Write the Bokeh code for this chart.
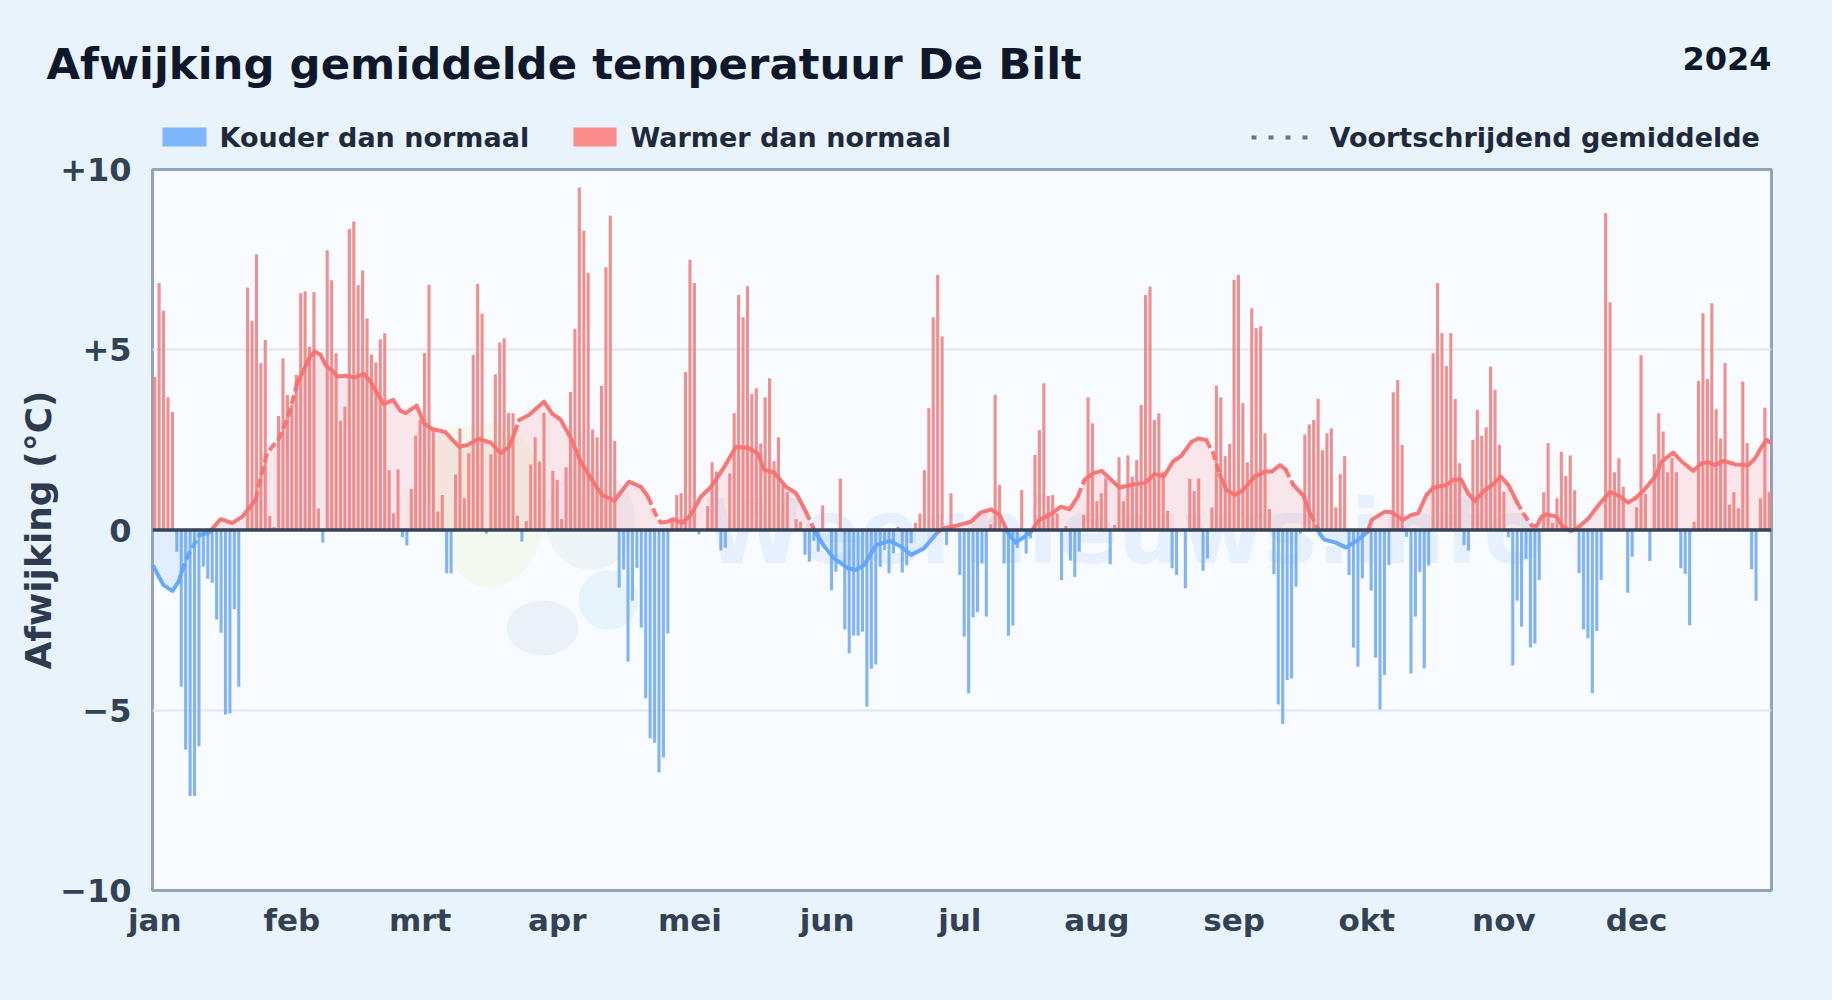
from bokeh.plotting import figure
from bokeh.layouts import column
from bokeh.models import Span, FixedTicker, ColumnDataSource
from bokeh.core.properties import value
from bokeh.embed import file_html
from bokeh.resources import INLINE

FONT = "DejaVu Sans"

month_labels = ["jan", "feb", "mrt", "apr", "mei", "jun", "jul", "aug", "sep", "okt", "nov", "dec"]
month_starts = [0, 31, 60, 91, 121, 152, 182, 213, 244, 274, 305, 335]
y_ticks = [-10, -5, 0, 5, 10]
y_tick_labels = ["\u221210", "\u22125", "0", "+5", "+10"]

# one deviation per day of 2024
daily_deviation = [
    4.25, 6.85, 6.08, 3.68, 3.27,
    -0.6, -4.35, -6.09, -7.38, -7.38, -6.0, -1.02, -1.35, -1.46, -2.48, -2.85, -5.12, -5.09, -2.2, -4.35,
    0,
    6.73, 5.8, 7.65, 4.63, 5.27, 0.39, 0.08, 3.16, 4.76, 3.75, 3.47, 4.3, 6.57, 6.62, 5.09, 6.6, 0.6,
    -0.35,
    7.76, 6.93, 4.9, 3.03, 3.42, 8.35, 8.56, 6.79, 7.2, 5.87, 4.87, 4.65, 5.29, 5.46, 1.66, 0.46, 1.68,
    -0.2, -0.43,
    1.14, 2.62, 3.05, 4.91, 6.8, 2.75, 0.51, 0.97,
    -1.2, -1.2,
    1.54, 2.82, 0.88, 2.13, 4.86, 6.83, 6.0,
    -0.1,
    2.1, 4.32, 5.2, 5.32, 3.25, 3.24, 0.4,
    -0.32,
    0.25, 1.82, 2.57, 1.9, 3.25,
    -0.05,
    1.64, 1.39, 0.3, 1.74, 3.83, 5.58, 9.5, 8.3, 7.13, 2.79, 2.57, 4.0, 7.29, 8.72, 2.47,
    -1.6, -1.1, -3.65, -1.96, -1.05, -2.71, -4.67, -5.78, -5.9, -6.73, -6.31, -2.87,
    0.25, 0.97, 1.02, 4.38, 7.5, 6.85,
    -0.12,
    0,
    0.67, 1.88, 1.62,
    -0.57, -0.49,
    1.57, 3.24, 6.52, 5.9, 6.76, 3.77, 3.93, 2.4, 3.68, 4.21, 1.91, 2.57, 1.25, 1.06,
    0,
    0.3, 0.23,
    -0.69, -0.88, -0.3, -0.6,
    0.68,
    0,
    -1.67, -1.16,
    1.43,
    -2.76, -3.42, -2.93, -2.93, -2.82, -4.9, -3.85, -3.73, -1.02, -0.56, -1.2, -0.65,
    0.09,
    -1.18, -0.98, -0.37,
    0.2, 0.45, 1.66, 3.38, 5.9, 7.08, 5.37,
    -0.42,
    1.02,
    0,
    -1.25, -2.96, -4.53, -2.42, -2.27, -0.93, -2.4,
    0.16, 3.75, 1.25,
    -0.93, -2.93, -2.65, -0.5,
    1.11,
    -0.65, -0.23,
    2.08, 2.77, 4.07, 0.94, 0.97, 0.46,
    -1.39,
    0.11,
    -0.85, -1.3, -0.6,
    0.42, 3.68, 2.96, 0.8, 1.02, 1.43,
    -0.95,
    0.14, 2.02, 0.8, 2.07, 1.48, 1.94, 3.47, 6.52, 6.75, 3.05, 3.24, 1.62, 0.53,
    -1.06, -1.25,
    0,
    -1.62,
    1.42, 1.08, 1.43,
    -1.13, -0.79,
    0.62, 4.0, 3.68, 2.05, 2.39, 6.94, 7.08, 3.52, 1.88, 6.15, 5.6, 5.65, 2.68, 0.58,
    -1.22, -4.84, -5.38, -4.16, -4.12, -1.57, -0.1,
    2.65, 2.93, 3.05, 3.64, 2.21, 2.68, 2.82, 0.63, 1.55, 2.05,
    -1.25, -3.26, -3.79, -1.34,
    0,
    -1.68, -3.54, -4.98, -4.02, -0.97,
    3.82, 4.16, 2.36,
    -0.19, -3.98, -2.4, -1.16, -3.84, -0.99,
    4.9, 6.85, 5.46, 4.55, 5.46, 3.63, 1.85,
    -0.42, -0.57,
    2.5, 3.33, 2.61, 2.85, 4.53, 3.89, 2.36, 1.06,
    -0.2, -3.76, -1.96, -2.68, -0.8, -3.26, -3.15, -1.39,
    1.05, 2.41, 0.2, 0.88, 2.17, 1.5, 2.07, 1.1,
    -1.2, -2.75, -3.0, -4.52, -2.8, -1.39,
    8.79, 6.32, 1.6, 1.99, 1.2,
    -1.74, -0.74,
    0.63, 4.85, 1.0,
    -0.86,
    2.1, 3.24, 2.73, 1.6, 2.0, 1.6,
    -1.06, -1.22, -2.64,
    0.23, 4.13, 6.01, 4.19, 6.29, 3.35, 2.54, 4.63, 0.71, 1.05, 0.6, 4.12, 2.41,
    -1.09, -1.96,
    0.88, 3.39, 1.05,
]
assert len(daily_deviation) == 366, len(daily_deviation)

# running mean at its visible corners
ma_day = [0.3, 1.5, 2.5, 4.5, 5.9, 6.6, 7.9, 9.3, 10.6, 12.4, 13.3,
          13.4, 15.4, 16.5, 18, 20.3, 21.8, 23.3, 24.4, 25.9, 28.6, 30.5, 31.6, 32.7, 34.2, 35.6, 36.7, 38, 39.1,
          40.6, 41.8, 43.7, 45.7, 47.8, 49.3, 50.8, 52.3, 54.4, 56.1, 57.2, 59.7, 61.4, 63.3, 66.3, 67.8, 69.3,
          71.2, 73.8, 76.5, 78.7, 80.6, 81.8, 82.9, 85.1, 88.5, 90.4, 91.9, 92.3, 94.6, 96.8, 99.8, 101.7, 104.4,
          107.7, 110.4, 112, 113.8, 114.9, 116.4, 117.6, 119.8, 121.7, 124, 126.3, 129.3, 131.9, 134.5, 136.8,
          138.3, 140.6, 143.2, 145.5, 147.7, 149.5,
          149.7, 151.9, 154.1, 157.2, 159, 160.9, 163.6, 166.6, 169.2, 171.5, 174.4, 177.6,
          179, 181.7, 183.9, 185, 187.3, 189.6, 191.5, 192.9,
          193.1, 195.1, 197, 198.8,
          199, 200.5, 202.8, 205.4, 207.3, 209.2, 210.7, 212.6, 214.6, 216.4, 218.6, 222, 224.3, 226.5, 228.7,
          230.7, 232.6, 234.9, 236.4, 238.2, 239.8, 241.3, 242.8, 244.7, 246.5, 249.2, 251.5, 253, 254.9, 256.1,
          257.9, 260.1, 261.7, 263.5,
          263.8, 264.8, 267.5, 269.8, 272.5, 274.7,
          275.6, 278.6, 280.1, 282.7, 284.6, 286.1, 288, 289.5, 292.5, 294, 295.8, 297.4, 298.9, 301.2, 302.9,
          304.8, 306.5, 308.4, 309.9, 311.8, 313, 314, 315.2, 317.4, 318.9,
          320.6,
          322.2, 324.6, 326.9, 329.5, 331.8, 333.6, 335.2, 337, 339.7, 341.2, 343.8, 345.7, 348.3, 350.2, 351.7,
          353.2, 355.1, 357.8, 360.8, 362.3, 363.8, 364.9, 366]
ma_value = [-1.02, -1.31, -1.53, -1.69, -1.43, -1.16, -0.74, -0.42, -0.14, -0.09, -0.02,
            0.02, 0.3, 0.26, 0.19, 0.37, 0.6, 0.83, 1.43, 2.13, 2.54, 3.1, 3.56, 4.07, 4.44, 4.81, 4.95, 4.86, 4.58,
            4.42, 4.26, 4.28, 4.23, 4.33, 4.12, 3.79, 3.49, 3.61, 3.3, 3.24, 3.45, 2.96, 2.8, 2.71, 2.5, 2.31,
            2.36, 2.53, 2.42, 2.13, 2.31, 2.68, 3.05, 3.19, 3.56, 3.22, 3.1, 3.05, 2.54, 1.9, 1.3, 0.97, 0.81,
            1.34, 1.2, 0.93, 0.42, 0.21, 0.23, 0.3, 0.2, 0.42, 0.93, 1.2, 1.76, 2.31, 2.28, 2.13,
            1.67, 1.59, 1.2, 1.02, 0.51, 0.03,
            -0.03, -0.46, -0.79, -1.06, -1.11, -0.97, -0.42, -0.3, -0.46, -0.69, -0.51, -0.05,
            0.05, 0.12, 0.19, 0.23, 0.49, 0.57, 0.42, 0.06,
            -0.02, -0.35, -0.2, -0.02,
            0.03, 0.28, 0.42, 0.65, 0.57, 0.93, 1.39, 1.57, 1.64, 1.43, 1.18, 1.27, 1.3, 1.55, 1.5,
            1.9, 2.06, 2.45, 2.54, 2.5, 2.13, 1.53, 1.11, 0.97, 1.11, 1.48, 1.62, 1.62, 1.8, 1.69,
            1.25, 0.97, 0.46, 0.03,
            -0.09, -0.26, -0.35, -0.49, -0.28, -0.05,
            0.28, 0.51, 0.49, 0.28, 0.42, 0.46, 0.97, 1.17, 1.25, 1.39, 1.41, 1.02, 0.8, 1.11, 1.25,
            1.48, 1.25, 0.79, 0.46, 0.12, 0.12, 0.37, 0.43, 0.37, 0.09,
            -0.03,
            0.06, 0.32, 0.69, 1.06, 0.93, 0.76, 0.88, 1.08, 1.48, 1.9, 2.15, 1.9, 1.64, 1.85, 1.88,
            1.8, 1.92, 1.82, 1.8, 1.99, 2.31, 2.5, 2.41]
assert len(ma_day) == len(ma_value), (len(ma_day), len(ma_value))
ma_dashed_spans = [(6.3, 10.4), (23.7, 33), (81.8, 83.5), (90, 92), (112, 115.5), (147.7, 149.6),
                   (209, 211), (239, 241.5), (256.5, 258), (261, 263.5), (288, 289.5), (309, 313)]

W = 1832
HEAD_H, OVERLAP, MAIN_H = 158, 14, 856
FL, FT, FW, FH = 152, 25, 1619, 721
BG = "#e8f3fb"
RED, BLUE = "#f87171", "#60a5fa"

# ---------- header: title, year, legend (coordinates = page pixels) ----------
head = figure(width=W, height=HEAD_H, output_backend="svg", toolbar_location=None,
              x_range=(0, W), y_range=(HEAD_H, 0), x_axis_type=None, y_axis_type=None,
              min_border=0)
head.frame_align = False
head.grid.visible = False
head.outline_line_color = None
head.background_fill_color = BG
head.border_fill_color = BG


def head_text(x, y, s, size, color, align="left"):
    head.text(x=[x], y=[y], text=[s], text_font=value(FONT), text_font_style="bold", text_font_size=size,
              text_color=color, text_align=align, text_baseline="middle")


head_text(46, 63, "Afwijking gemiddelde temperatuur De Bilt", "43.4px", "#0f172a")
head_text(1771, 58, "2024", "32px", "#0f172a", "right")
head_text(219, 137, "Kouder dan normaal", "27px", "#1e293b")
head_text(630, 137, "Warmer dan normaal", "27px", "#1e293b")
head_text(1329, 137, "Voortschrijdend gemiddelde", "27px", "#1e293b")
head.quad(left=[162, 573], right=[206, 616], top=[127, 127], bottom=[146, 146],
          fill_color=["#7fb6fb", "#fa8c8c"], line_color=None)
head.line([1251, 1307], [137, 137], line_color="#64748b", line_width=4, line_dash="5 12")

# ---------- main chart ----------
p = figure(width=W, height=MAIN_H, output_backend="svg", toolbar_location=None,
           x_range=(0, 366), y_range=(-10, 10),
           min_border_left=FL, min_border_right=W - FL - FW, min_border_top=FT,
           min_border_bottom=MAIN_H - FT - FH, margin=(-OVERLAP, 0, 0, 0))
p.frame_align = False
p.background_fill_color = "#f8fbff"
p.border_fill_color = None
p.outline_line_color = "#94a3b8"
p.outline_line_width = 3
p.xgrid.visible = False
p.ygrid.ticker = FixedTicker(ticks=[-5, 5])
p.ygrid.grid_line_color = "#e2e8f0"
p.ygrid.grid_line_width = 2

ax = p.xaxis[0]
ax.ticker = FixedTicker(ticks=[m + 0.5 for m in month_starts])
ax.major_label_overrides = {m + 0.5: s for m, s in zip(month_starts, month_labels)}
ay = p.yaxis[0]
ay.ticker = FixedTicker(ticks=y_ticks)
ay.major_label_overrides = dict(zip(y_ticks, y_tick_labels))
for a in (ax, ay):
    a.axis_line_color = None
    a.major_tick_line_color = None
    a.minor_tick_line_color = None
    a.major_label_text_font = FONT
    a.major_label_text_font_style = "bold"
    a.major_label_text_color = "#334155"
ax.major_label_text_font_size = "31px"
ay.major_label_text_font_size = "32px"
ax.major_label_standoff = 5
ay.major_label_standoff = 15
ay.axis_label = "Afwijking (\u00b0C)"
ay.axis_label_text_font = FONT
ay.axis_label_text_font_style = "bold"
ay.axis_label_text_font_size = "36px"
ay.axis_label_text_color = "#2d3a4f"
ay.axis_label_standoff = -2


def px_x(px):
    return (px - 152) / (FW / 366)


def px_y(py):
    return (530 - py) / (FH / 20)


# faint logo and site name behind the data
logo_parts = [(490, 505, 110, 165, "#f3f9ee"), (460, 475, 70, 100, "#f4f9ef"), (542, 628, 72, 55, "#eaf1f8"),
              (608, 600, 60, 60, "#e8f4fc"), (590, 520, 90, 100, "#eff4f9")]
p.ellipse(x=[px_x(c[0]) for c in logo_parts], y=[px_y(c[1]) for c in logo_parts],
          width=[c[2] / (FW / 366) for c in logo_parts], height=[c[3] / (FH / 20) for c in logo_parts],
          fill_color=[c[4] for c in logo_parts], line_color=None)
p.text(x=[px_x(704)], y=[px_y(532)], text=["Weernieuws.info"], text_font=value(FONT), text_font_style="bold",
       text_font_size="89px", text_color="#3b82f6", text_alpha=0.085, text_baseline="alphabetic")

# area under the running mean
p.varea(x=ma_day, y1=[0] * len(ma_day), y2=[max(v, 0) for v in ma_value], fill_color=RED, fill_alpha=0.15)
p.varea(x=ma_day, y1=[0] * len(ma_day), y2=[min(v, 0) for v in ma_value], fill_color=BLUE, fill_alpha=0.15)

# daily bars
days = [d + 0.5 for d in range(len(daily_deviation))]
src = ColumnDataSource(dict(x=days, top=daily_deviation,
                            color=["#ee8080" if v >= 0 else "#6eaaf2" for v in daily_deviation]))
p.vbar(x="x", top="top", bottom=0, width=0.7, fill_color="color", fill_alpha=0.88, line_color=None, source=src)

p.add_layout(Span(location=0, dimension="width", line_color="#374357", line_width=3.5))

# running mean, split where colour or dash style changes
runs = []
for k in range(len(ma_day) - 1):
    mid = (ma_day[k] + ma_day[k + 1]) / 2
    sign = ma_value[k] + ma_value[k + 1] >= 0
    dashed = any(a <= mid <= b for a, b in ma_dashed_spans)
    key = (sign, dashed)
    if runs and runs[-1][0] == key:
        runs[-1][1].append(k + 1)
    else:
        runs.append((key, [k, k + 1]))
for (sign, dashed), idx in runs:
    p.line([ma_day[i] for i in idx], [ma_value[i] for i in idx], line_color=RED if sign else BLUE,
           line_width=4, line_join="round", line_cap="round" if not dashed else "butt",
           line_dash="9 4" if dashed else "solid", line_alpha=0.95)

html = file_html(column(head, p, spacing=0), INLINE)
html = html.replace("</head>", "<style>html,body{background:#e8f3fb}</style></head>", 1)
open("out.html", "w").write(html)
